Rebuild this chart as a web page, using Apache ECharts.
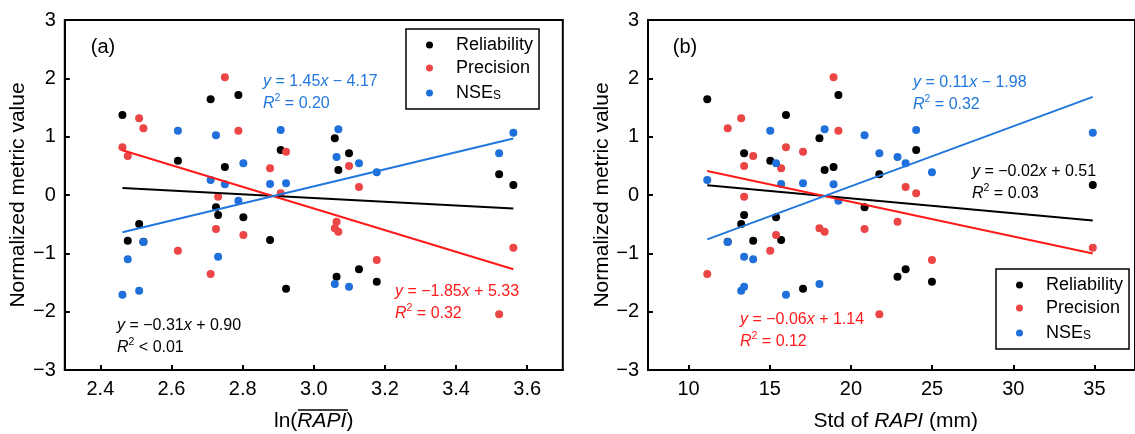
<!DOCTYPE html>
<html><head><meta charset="utf-8">
<script src="https://cdn.jsdelivr.net/npm/echarts@6/dist/echarts.min.js"></script>
<style>html,body{margin:0;padding:0;background:#fff}#c{width:1135px;height:434px}</style>
</head><body><div id="c"></div>
<script>
// ---- data (one entry per catchment) ----
const lnMeanRAPI = [2.462, 2.477, 2.509, 2.521, 2.618, 2.710, 2.725, 2.731, 2.750, 2.788, 2.802, 2.877, 2.907, 2.922, 3.059, 3.069, 3.064, 3.099, 3.127, 3.177, 3.521, 3.561];
const stdRAPI    = [16.0, 13.98, 13.24, 12.41, 15.03, 11.15, 20.84, 13.42, 18.93, 19.23, 15.39, 15.70, 24.02, 17.05, 18.06, 18.38, 22.87, 13.42, 23.37, 24.99, 21.75, 34.9];
const reliability = [1.372, -0.783, -0.497, -0.80, 0.588, 1.641, -0.211, -0.343, 0.480, 1.714, -0.382, -0.771, 0.771, -1.606, 0.972, 0.429, -1.401, 0.715, -1.274, -1.486, 0.355, 0.171];
const precision   = [0.818, 0.669, 1.315, 1.143, -0.955, -1.354, -0.583, -0.029, 2.018, 1.102, -0.686, 0.458, 0.029, 0.742, -0.571, -0.629, -0.458, 0.497, 0.137, -1.114, -2.045, -0.903];
const nseS        = [-1.709, -1.102, -1.641, -0.806, 1.102, 0.257, 1.023, -1.058, 0.183, -0.098, 0.543, 0.189, 1.114, 0.201, -1.526, 1.126, 0.651, -1.572, 0.543, 0.389, 0.715, 1.068];
const seriesNames = ['Reliability', 'Precision', 'NSEs'];
const yTicks  = [-3, -2, -1, 0, 1, 2, 3];
const xTicksA = [2.4, 2.6, 2.8, 3.0, 3.2, 3.4, 3.6];
const xTicksB = [10, 15, 20, 25, 30, 35];
const eqTextA = ['{i|y} = \u22120.31{i|x} + 0.90\n{i|R}{s|2} < 0.01', '{i|y} = \u22121.85{i|x} + 5.33\n{i|R}{s|2} = 0.32', '{i|y} = 1.45{i|x} \u2212 4.17\n{i|R}{s|2} = 0.20'];
const eqTextB = ['{i|y} = \u22120.02{i|x} + 0.51\n{i|R}{s|2} = 0.03', '{i|y} = \u22120.06{i|x} + 1.14\n{i|R}{s|2} = 0.12', '{i|y} = 0.11{i|x} \u2212 1.98\n{i|R}{s|2} = 0.32'];

// ---- styling ----
const FONT = "'Liberation Sans', Arial, sans-serif";
const dotColors  = ['#000000', '#ec4545', '#1f70da'];
const lineColors = ['#000000', '#ff1a1a', '#2277dd'];
const metrics = [reliability, precision, nseS];

function ols(xs, ys) {
  const n = xs.length;
  const mx = xs.reduce((a, b) => a + b, 0) / n;
  const my = ys.reduce((a, b) => a + b, 0) / n;
  let sxy = 0, sxx = 0;
  for (let i = 0; i < n; i++) { sxy += (xs[i] - mx) * (ys[i] - my); sxx += (xs[i] - mx) ** 2; }
  const b = sxy / sxx;
  return [b, my - b * mx];
}
function fitLine(xs, ys) {
  const [b, a] = ols(xs, ys);
  const x0 = Math.min(...xs), x1 = Math.max(...xs);
  return [[x0, a + b * x0], [x1, a + b * x1]];
}
const minus = v => (v < 0 ? '\u2212' + Math.abs(v) : String(v));

const grids = [
  { left: 64.8, top: 20, width: 498, height: 350 },
  { left: 648, top: 20, width: 495.3, height: 350 }
];
const axisCommon = {
  axisLine: { onZero: false, lineStyle: { color: '#000', width: 2 } },
  axisTick: { inside: true, length: 5, lineStyle: { color: '#000', width: 2 } },
  axisLabel: { color: '#000', fontSize: 20, fontFamily: FONT, margin: 9 },
  splitLine: { show: false }
};
const xAxes = [
  Object.assign({}, axisCommon, { gridIndex: 0, type: 'value', min: 2.3, max: 3.7,
    axisTick: Object.assign({}, axisCommon.axisTick, { customValues: xTicksA }),
    axisLabel: Object.assign({}, axisCommon.axisLabel, { customValues: xTicksA, formatter: v => v.toFixed(1) }) }),
  Object.assign({}, axisCommon, { gridIndex: 1, type: 'value', min: 7.5, max: 37.5,
    axisTick: Object.assign({}, axisCommon.axisTick, { customValues: xTicksB }),
    axisLabel: Object.assign({}, axisCommon.axisLabel, { customValues: xTicksB }) })
];
const yAxes = [0, 1].map(g => Object.assign({}, axisCommon, { gridIndex: g, type: 'value', min: -3, max: 3,
  axisTick: Object.assign({}, axisCommon.axisTick, { customValues: yTicks }),
  axisLabel: Object.assign({}, axisCommon.axisLabel, { customValues: yTicks, formatter: minus }) }));

const series = [];
[lnMeanRAPI, stdRAPI].forEach((xs, p) => {
  metrics.forEach((ys, i) => {
    series.push({ type: 'scatter', name: seriesNames[i], xAxisIndex: p, yAxisIndex: p,
      data: xs.map((x, k) => [x, ys[k]]), symbolSize: 8, itemStyle: { color: dotColors[i], opacity: 1 }, z: 2 });
  });
  metrics.forEach((ys, i) => {
    series.push({ type: 'line', name: 'fit' + p + i, xAxisIndex: p, yAxisIndex: p,
      data: fitLine(xs, ys), symbol: 'none', lineStyle: { color: lineColors[i], width: 2 }, z: 3, silent: true });
  });
});

const legendBase = {
  orient: 'vertical', icon: 'circle', itemWidth: 7, itemHeight: 7, itemGap: 5,
  padding: [7, 6, 7, 20], borderColor: '#000', borderWidth: 1.5, backgroundColor: '#fff',
  data: seriesNames,
  formatter: n => (n === 'NSEs' ? '{n|NSE}{s|S}' : '{n|' + n + '}'),
  textStyle: { color: '#000', fontSize: 18, fontFamily: FONT,
    rich: { n: { fontSize: 18, fontFamily: FONT, color: '#000', lineHeight: 18, padding: [0, 0, 0, 18] },
            s: { fontSize: 12, fontFamily: FONT, color: '#000', verticalAlign: 'bottom', lineHeight: 18, padding: [8, 0, 0, 0] } } }
};
const legends = [
  Object.assign({}, legendBase, { left: 406, top: 29 }),
  Object.assign({}, legendBase, { left: 996, top: 269 })
];

function eqGraphic(text, x, y, color) {
  return { type: 'text', x: x, y: y, z: 100, style: {
    text: text, fill: color, fontSize: 16, fontFamily: FONT, lineHeight: 22.5, verticalAlign: 'top', align: 'left',
    rich: { i: { fontStyle: 'italic', fill: color, fontSize: 16, fontFamily: FONT, lineHeight: 22.5 },
            s: { fill: color, fontSize: 10.5, fontFamily: FONT, lineHeight: 22.5, verticalAlign: 'top', padding: [0, 0, 6, 0] } } } };
}
const eqPosA = [[117, 314], [395, 280], [263, 70]];
const eqPosB = [[972, 160], [740, 308], [913, 71]];

const graphics = [];
eqTextA.forEach((t, i) => graphics.push(eqGraphic(t, eqPosA[i][0], eqPosA[i][1], lineColors[i])));
eqTextB.forEach((t, i) => graphics.push(eqGraphic(t, eqPosB[i][0], eqPosB[i][1], lineColors[i])));
graphics.push({ type: 'text', x: 103, y: 47, style: { text: '(a)', fontSize: 20, fontFamily: FONT, fill: '#000', align: 'center', verticalAlign: 'middle' } });
graphics.push({ type: 'text', x: 685, y: 47, style: { text: '(b)', fontSize: 20, fontFamily: FONT, fill: '#000', align: 'center', verticalAlign: 'middle' } });
[18, 602].forEach(x => graphics.push({ type: 'text', x: x, y: 195, rotation: Math.PI / 2,
  style: { text: 'Normalized metric value', fontSize: 21, fontFamily: FONT, fill: '#000', align: 'center', verticalAlign: 'middle' } }));
graphics.push({ type: 'text', x: 313.7, y: 421, style: { text: 'ln({i|RAPI})', fontSize: 21, fontFamily: FONT, fill: '#000', align: 'center', verticalAlign: 'middle',
  rich: { i: { fontStyle: 'italic', fontSize: 21, fontFamily: FONT, fill: '#000' } } } });
graphics.push({ type: 'line', shape: { x1: 298, y1: 410, x2: 348, y2: 410 }, style: { stroke: '#000', lineWidth: 1.3 } });
graphics.push({ type: 'text', x: 895.7, y: 421, style: { text: 'Std of {i|RAPI} (mm)', fontSize: 21, fontFamily: FONT, fill: '#000', align: 'center', verticalAlign: 'middle',
  rich: { i: { fontStyle: 'italic', fontSize: 21, fontFamily: FONT, fill: '#000' } } } });

const chart = echarts.init(document.getElementById('c'), null, { renderer: 'canvas' });
chart.setOption({
  animation: false,
  backgroundColor: '#fff',
  grid: grids.map(g => Object.assign({ show: true, borderColor: '#000', borderWidth: 2, backgroundColor: 'transparent' }, g)),
  xAxis: xAxes,
  yAxis: yAxes,
  legend: legends,
  series: series,
  graphic: graphics
});
</script>
</body></html>
